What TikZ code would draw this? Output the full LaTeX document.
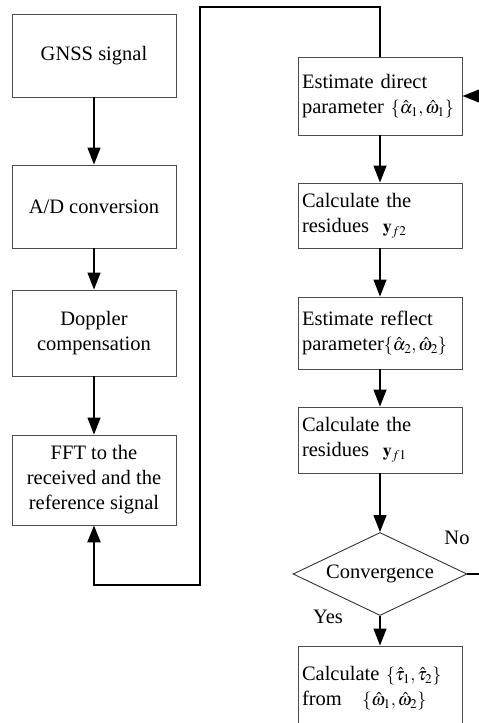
\documentclass[tikz,border=0pt]{standalone}
\usepackage{mathptmx}
\usepackage{fontspec}
\setmainfont{Liberation Serif}
\usetikzlibrary{arrows.meta,shapes.geometric}
\newcommand{\pmath}[1]{{\fontsize{18}{20}\selectfont$#1$}}

\begin{document}
\begin{tikzpicture}[x=1pt,y=-1pt,
  box/.style={draw=black!70,line width=0.9pt,minimum width=164pt,inner sep=4pt,font=\fontsize{20.5}{25}\selectfont},
  leftbox/.style={box,align=center},
  rightbox/.style={box,align=left,text width=156pt},
  flow/.style={line width=1.3pt,-{Triangle[length=17pt,width=13pt]}},
  loopline/.style={line width=2.5pt,-{Triangle[length=17pt,width=13pt]}},
  lbl/.style={font=\fontsize{20.5}{25}\selectfont}]

\clip (0,0) rectangle (479,723);

% left column
\node[leftbox,minimum height=83pt] (gnss) at (94,55.5) {GNSS signal};
\node[leftbox,minimum height=83pt] (adc) at (94,206.5) {A/D conversion};
\node[leftbox,minimum height=86pt] (dopp) at (94,333) {Doppler\\compensation};
\node[leftbox,minimum height=90pt] (fft) at (94,480) {FFT to the\\received and the\\reference signal};

% right column
\node[rightbox,minimum height=78pt] (dir) at (380,96) {Estimate direct\\parameter\ \pmath{\{\hat{\alpha}_1,\hat{\omega}_1\}}};
\node[rightbox,minimum height=65pt] (resb) at (380,215.5) {Calculate the\\residues\ \ \pmath{\mathbf{y}_{f2}}};
\node[rightbox,minimum height=72pt] (refl) at (380,333) {Estimate reflect\\parameter\pmath{\{\hat{\alpha}_2,\hat{\omega}_2\}}};
\node[rightbox,minimum height=66pt] (resa) at (380,440) {Calculate the\\residues\ \ \pmath{\mathbf{y}_{f1}}};
\node[diamond,draw=black!80,line width=0.9pt,aspect=2.1,inner sep=0pt,
      minimum width=174pt,minimum height=83pt,lbl] (conv) at (380,574) {Convergence};
\node[rightbox,minimum height=84pt] (delay) at (380,688) {Calculate \pmath{\{\hat{\tau}_1,\hat{\tau}_2\}}\\from\ \ \ \pmath{\{\hat{\omega}_1,\hat{\omega}_2\}}};

\node[lbl] (no) at (457,538) {No};
\node[lbl] (yes) at (328,617) {Yes};

% arrows
\draw[flow] (gnss) -- (adc);
\draw[flow] (adc) -- (dopp);
\draw[flow] (dopp) -- (fft);
\draw[flow] (dir) -- (resb);
\draw[flow] (resb) -- (refl);
\draw[flow] (refl) -- (resa);
\draw[flow] (resa) -- (conv);
\draw[flow] (conv) -- (delay);

% big loop and feedback
\coordinate (top) at (200,7);
\coordinate (bot) at (200,585);
\draw[loopline] (dir.north) |- (top) -- (bot) -| (fft.south);
\draw[line width=1.8pt,-{Triangle[length=17pt,width=13pt]}] (conv.east) -- ++(40,0) |- (dir.east);

\end{tikzpicture}
\end{document}
